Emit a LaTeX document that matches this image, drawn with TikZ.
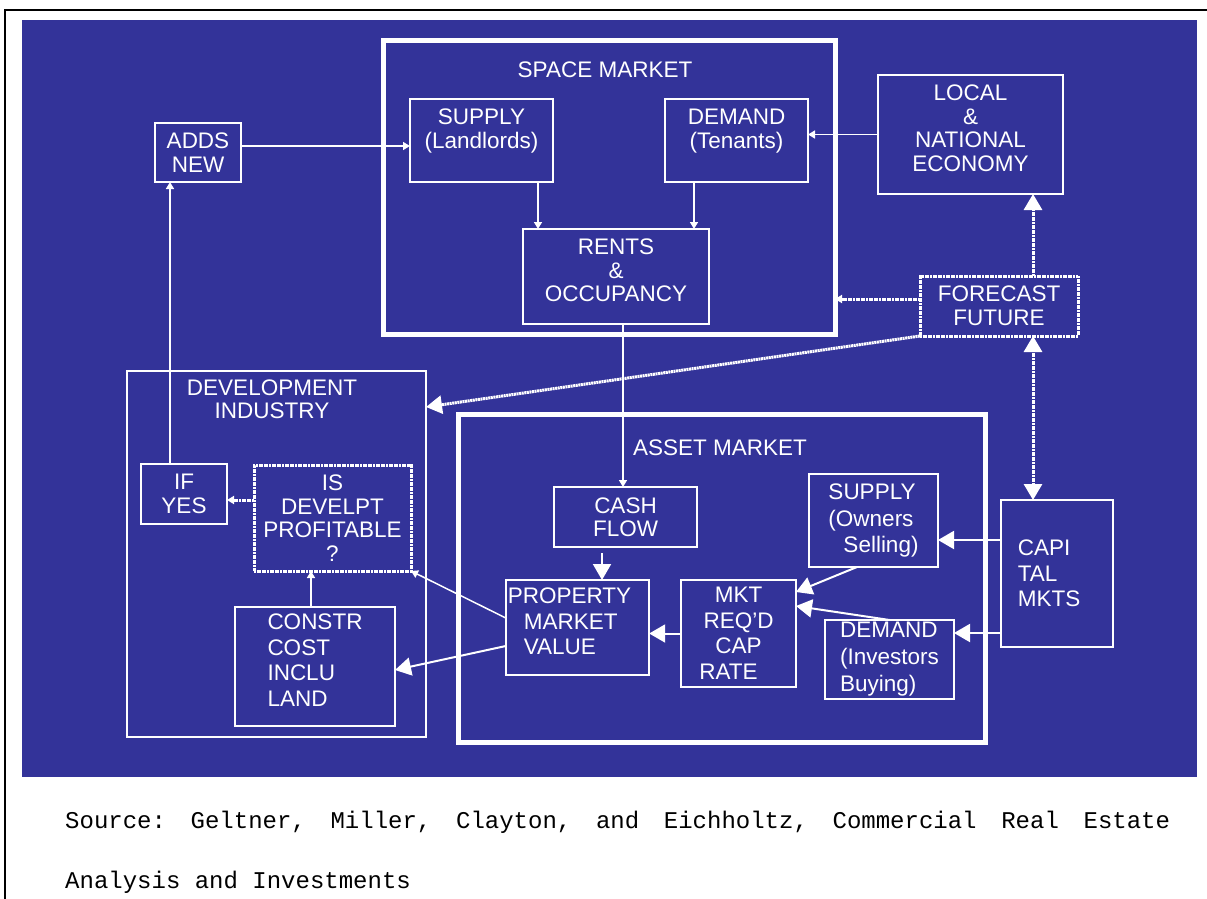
\documentclass[tikz,border=0pt]{standalone}
\usepackage{fontspec}
\setmainfont{Liberation Sans}
\setmonofont{Liberation Mono}
\usetikzlibrary{positioning,arrows.meta}
\definecolor{slideblue}{RGB}{51,51,153}

\begin{document}
\begin{tikzpicture}[x=1pt, y=-1pt,
	every node/.style={text=white, font=\fontsize{22.5}{23.5}\selectfont},
	box/.style={draw=white, line width=2pt, align=center, inner sep=2pt, outer sep=0pt},
	dotbox/.style={box, line width=3pt, dash pattern=on 2pt off 0.6pt},
	market/.style={draw=white, line width=5pt, inner sep=0pt, outer sep=0pt},
	spaced/.style={font=\fontsize{22.5}{25.5}\selectfont},
	smalltip/.style={-{Triangle[length=7pt,width=8pt]}},
	bigtip/.style={-{Triangle[length=16pt,width=18pt]}},
	bothtip/.style={{Triangle[length=16pt,width=18pt]}-{Triangle[length=16pt,width=18pt]}},
	flow/.style={draw=white, line width=1.5pt, smalltip},
	bigflow/.style={draw=white, line width=2pt, bigtip},
	dotflow/.style={draw=white, line width=3pt, dash pattern=on 2pt off 0.6pt}
	]
	\useasboundingbox (0,0) rectangle (1207,899);
	\fill[slideblue] (22,20) rectangle (1197,777);
	\draw[line width=2pt] (5,899) -- (5,10) -- (1207,10);

	% space market
	\node[market, minimum width=452pt, minimum height=293pt] (space) at (609,187.5) {};
	\node (spacetitle) at (605,70) {SPACE MARKET};
	\node[box, minimum width=143pt, minimum height=83pt] (supplyL) at (481.5,140.5) {SUPPLY\\(Landlords)\\\mbox{}};
	\node[box, minimum width=143pt, minimum height=83pt] (demandT) at (736.5,140.5) {DEMAND\\(Tenants)\\\mbox{}};
	\node[box, minimum width=186pt, minimum height=95pt] (rents) at (616,276.5) {RENTS\\\&\\OCCUPANCY\\[-11pt]\mbox{}};
	\node[box, minimum width=86pt, minimum height=59pt] (adds) at (198,152.5) {ADDS\\NEW};
	\node[box, minimum width=185pt, minimum height=119pt] (local) at (970.5,134.5) {LOCAL\\\&\\NATIONAL\\ECONOMY\\[-11pt]\mbox{}};
	\node[dotbox, minimum width=158pt, minimum height=60pt] (forecast) at (999,306) {FORECAST\\FUTURE};

	% development industry
	\node[market, line width=2pt, minimum width=299pt, minimum height=366pt] (dev) at (276.5,554) {};
	\node[align=center] (devtitle) at (272,399.5) {DEVELOPMENT\\INDUSTRY};
	\node[box, minimum width=86pt, minimum height=60pt] (ifyes) at (184,494) {IF\\YES};
	\node[dotbox, minimum width=157pt, minimum height=106pt] (profit) at (332.5,518) {IS\\DEVELPT\\PROFITABLE\\?};
	\node[box, spaced, align=left, minimum width=160pt, minimum height=119pt] (constr) at (315,666.5) {CONSTR\\COST\\INCLU\\LAND\\[-13pt]\mbox{}};

	% asset market
	\node[market, minimum width=527pt, minimum height=328pt] (asset) at (721.5,578) {};
	\node (assettitle) at (720,448) {ASSET MARKET};
	\node[box, minimum width=143pt, minimum height=60pt] (cash) at (625.5,517) {CASH\\FLOW};
	\node[box, spaced, align=left, minimum width=143pt, minimum height=95pt] (property) at (577.5,627.5) {PROPERTY\hspace*{16pt}\\\hspace*{16pt}MARKET\\\hspace*{16pt}VALUE\\[-13pt]\mbox{}};
	\node[box, spaced, minimum width=115pt, minimum height=107pt] (mkt) at (738.5,633.5) {MKT\\REQ’D\hspace*{10pt}\\CAP\\RATE\hspace*{20pt}};
	\node[box, align=left, minimum width=129pt, minimum height=93pt, font=\fontsize{22.5}{26.5}\selectfont] (supplyO) at (873.5,520.5) {SUPPLY\\(Owners\\\hspace*{15pt}Selling)};
	\node[box, align=left, inner sep=1pt, minimum width=129pt, minimum height=79pt, font=\fontsize{22.5}{27}\selectfont] (demandI) at (889.5,659.5) {DEMAND\\(Investors\\Buying)};
	\node[box, spaced, align=left, minimum width=112pt, minimum height=147pt] (capi) at (1057,573.5) {CAPI\\TAL\\MKTS\hspace*{16pt}};

	% connectors
	\draw[flow] ([yshift=6.5pt]adds.east) -- ([yshift=-5.5pt]supplyL.west);
	\draw[flow] ([xshift=-14pt]ifyes.north) -- ([xshift=-28pt]adds.south);
	\draw[flow] ([xshift=56.5pt]supplyL.south) -- ([xshift=-78pt]rents.north);
	\draw[flow] ([xshift=-42.5pt]demandT.south) -- ([xshift=78pt]rents.north);
	\draw[flow] (local.west) -- ([yshift=6pt]demandT.east);
	\draw[dotflow, bigtip] ([xshift=34pt]forecast.north) -- ([xshift=62.5pt]local.south);
	\draw[dotflow, smalltip] ([yshift=7pt]forecast.west) -- ([yshift=-111.5pt]space.east);
	\draw[dotflow, bigtip] (forecast.south west) -- ([yshift=147pt]dev.east);
	\draw[dotflow, bothtip] ([xshift=-24pt]capi.north) -- ([xshift=34pt]forecast.south);
	\draw[flow] ([xshift=7pt]rents.south) -- ([xshift=-2.5pt]cash.north);
	\draw[bigflow, shorten <=6pt] ([xshift=-23.5pt]cash.south) -- ([xshift=24.5pt]property.north);
	\draw[bigflow] (mkt.west) -- ([yshift=-6pt]property.east);
	\draw[bigflow] ([xshift=-16.5pt]supplyO.south) -- ([yshift=-12pt]mkt.north east);
	\draw[bigflow] (demandI.north) -- ([yshift=-26pt]mkt.north east);
	\draw[bigflow] ([yshift=33.5pt]capi.west) -- ([yshift=-19.5pt]supplyO.east);
	\draw[bigflow] ([yshift=-59.5pt]capi.west) -- ([yshift=26.5pt]demandI.east);
	\draw[bigflow] ([yshift=-18.5pt]property.west) -- ([yshift=-3.5pt]constr.east);
	\draw[flow] ([yshift=9.5pt]property.west) -- (profit.south east);
	\draw[flow] ([xshift=-4pt]constr.north) -- ([xshift=-21.5pt]profit.south);
	\draw[dotflow, smalltip] ([yshift=18pt]profit.west) -- ([yshift=-6pt]ifyes.east);

	% source line
	\node[text=black, font=\fontsize{24}{24}\ttfamily, anchor=base west, inner sep=0pt] (source) at (65,828) {\makebox[1105pt][l]{Source:\hfill Geltner,\hfill Miller,\hfill Clayton,\hfill and\hfill Eichholtz,\hfill Commercial\hfill Real\hfill Estate}};
	\node[text=black, font=\fontsize{24}{24}\ttfamily, anchor=base west, inner sep=0pt] (source2) at (65,888) {Analysis and Investments};
\end{tikzpicture}
\end{document}
